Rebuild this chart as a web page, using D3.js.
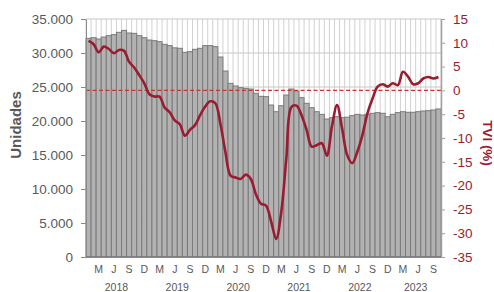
<!DOCTYPE html>
<html>
<head>
<meta charset="utf-8">
<style>
  body { margin: 0; background: #fff; }
  svg text { font-family: "Liberation Sans", Arial, sans-serif; }
</style>
</head>
<body>
<svg id="chart" width="494" height="292"></svg>
<script src="https://d3js.org/d3.v7.min.js"></script>
<script>
  // datos mensuales, enero 2018 - octubre 2023
  const years = [2018, 2019, 2020, 2021, 2022, 2023];
  const monthLetters = ["E", "F", "M", "A", "M", "J", "J", "A", "S", "O", "N", "D"];
  const labeledMonths = [2, 5, 8, 11]; // M J S D

  const unidades = [
    32160, 32250, 32060, 32350, 32550, 32700, 33040, 33330, 32940, 32890, 32550, 32250,
    31910, 31810, 31660, 31270, 31080, 30760, 30690, 30100, 30200, 30540, 30690, 31080,
    31080, 30930, 29410, 27350, 25540, 25150, 24900, 24800, 24700, 24070, 23630, 23580,
    22350, 21370, 22250, 23820, 24700, 24410, 23430, 22600, 21960, 21370, 20980, 20290,
    20490, 20630, 20490, 20560, 20790, 20980, 20880, 20980, 21130, 21230, 21130, 20630,
    20980, 21230, 21370, 21280, 21280, 21370, 21470, 21520, 21620, 21770
  ];

  const tvi = [
    10.4, 9.7, 8.0, 9.2, 8.7, 7.8, 8.5, 8.3, 6.0, 4.8, 3.2, 1.5,
    -0.8, -1.3, -1.3, -3.6, -4.6, -6.3, -7.1, -9.5, -8.3, -7.3, -5.2, -3.4,
    -2.3, -2.7, -7.0, -13.0, -17.9, -18.3, -18.6, -17.7, -18.6, -21.8, -23.8, -24.2,
    -27.5, -31.2, -25.6, -14.3, -3.5, -3.2, -5.2, -8.3, -11.8, -11.5, -11.1, -13.7,
    -7.5, -3.1, -8.0, -13.6, -15.3, -12.9, -9.4, -4.8, -1.7, 0.8, 1.3, 0.8,
    1.5, 1.1, 3.9, 2.9, 1.3, 1.5, 2.5, 2.8, 2.5, 2.8
  ];

  const leftTicks = [0, 5000, 10000, 15000, 20000, 25000, 30000, 35000];
  const rightTicks = [-35, -30, -25, -20, -15, -10, -5, 0, 5, 10, 15];

  const months = [];
  years.forEach(y => monthLetters.forEach((m, i) => {
    if (months.length < unidades.length) months.push({ key: y + "-" + i, year: y, m: i });
  }));
  const data = months.map((d, i) => ({ ...d, u: unidades[i], t: tvi[i] }));

  const plotLeft = 86, plotRight = 441, plotTop = 19, plotBottom = 257;
  const svg = d3.select("#chart");
  const grey = "#595959", red = "#9b1b30";

  const x = d3.scaleBand().domain(months.map(d => d.key)).range([plotLeft, plotRight]).padding(0);
  const yL = d3.scaleLinear().domain([0, 35000]).range([plotBottom, plotTop]);
  const yR = d3.scaleLinear().domain([-35, 15]).range([plotBottom, plotTop]);
  const bw = x.bandwidth();

  // rejilla
  svg.append("g").selectAll("line")
    .data(months.map(d => x(d.key)).concat([plotRight]))
    .join("line")
    .attr("x1", d => d).attr("x2", d => d)
    .attr("y1", plotTop).attr("y2", plotBottom)
    .attr("stroke", "#d2d2d2").attr("stroke-width", 1);

  svg.append("g").selectAll("line")
    .data(leftTicks.filter(d => d > 0))
    .join("line")
    .attr("x1", plotLeft).attr("x2", plotRight)
    .attr("y1", d => yL(d)).attr("y2", d => yL(d))
    .attr("stroke", "#c8c8c8").attr("stroke-width", 1.2);

  // barras
  svg.append("g").selectAll("rect")
    .data(data)
    .join("rect")
    .attr("x", d => x(d.key))
    .attr("y", d => yL(d.u))
    .attr("width", bw)
    .attr("height", d => yL(0) - yL(d.u))
    .attr("fill", "#b2b2b2")
    .attr("stroke", "#7a7a7a")
    .attr("stroke-width", 1);

  // linea de cero
  svg.append("line")
    .attr("x1", plotLeft).attr("x2", plotRight)
    .attr("y1", yR(0)).attr("y2", yR(0))
    .attr("stroke", "#cc3333").attr("stroke-width", 1.3)
    .attr("stroke-dasharray", "4,2.5");

  const line = d3.line()
    .x(d => x(d.key) + bw / 2)
    .y(d => yR(d.t))
    .curve(d3.curveCatmullRom.alpha(0.5));

  svg.append("path")
    .datum(data)
    .attr("fill", "none")
    .attr("stroke", red)
    .attr("stroke-width", 2.6)
    .attr("stroke-linejoin", "round")
    .attr("d", line);

  // ejes
  const axL = svg.append("g")
    .attr("transform", `translate(${plotLeft},0)`)
    .call(d3.axisLeft(yL).tickValues(leftTicks).tickSize(5).tickSizeOuter(0).tickPadding(8)
      .tickFormat(d => d3.format(",")(d).replace(/,/g, ".")));
  axL.select(".domain").attr("stroke", "#8a8a8a");
  axL.selectAll(".tick line").attr("stroke", "#8a8a8a");
  axL.selectAll("text").attr("fill", grey).style("font-size", "13.5px");

  const axR = svg.append("g")
    .attr("transform", `translate(${plotRight},0)`)
    .call(d3.axisRight(yR).tickValues(rightTicks).tickSize(4).tickSizeOuter(0).tickPadding(8)
      .tickFormat(d => String(d)));
  axR.select(".domain").attr("stroke", "#a0a0a0").attr("stroke-width", 1.5);
  axR.selectAll(".tick line").attr("stroke", "#a0a0a0");
  axR.selectAll("text").attr("fill", red).style("font-size", "13.5px");

  svg.append("line")
    .attr("x1", plotLeft).attr("x2", plotRight)
    .attr("y1", plotBottom).attr("y2", plotBottom)
    .attr("stroke", "#7a7a7a").attr("stroke-width", 1.5);

  // etiquetas del eje x
  svg.append("g").selectAll("text")
    .data(data.filter(d => labeledMonths.includes(d.m)))
    .join("text")
    .attr("x", d => x(d.key) + bw / 2)
    .attr("y", 273)
    .attr("text-anchor", "middle")
    .attr("fill", grey)
    .style("font-size", "10.5px")
    .text(d => monthLetters[d.m]);

  svg.append("g").selectAll("text")
    .data(years)
    .join("text")
    .attr("x", yr => {
      const ms = data.filter(d => d.year === yr);
      return (x(ms[0].key) + x(ms[ms.length - 1].key) + bw) / 2;
    })
    .attr("y", 291)
    .attr("text-anchor", "middle")
    .attr("fill", grey)
    .style("font-size", "10.5px")
    .text(d => d);

  // titulos
  svg.append("text")
    .attr("transform", "translate(21,125) rotate(-90)")
    .attr("text-anchor", "middle")
    .attr("fill", grey)
    .style("font-size", "15px")
    .style("font-weight", "bold")
    .text("Unidades");

  svg.append("text")
    .attr("transform", "translate(483,143) rotate(90)")
    .attr("text-anchor", "middle")
    .attr("fill", red)
    .style("font-size", "13.5px")
    .style("font-weight", "bold")
    .text("TVI (%)");
</script>
</body>
</html>
